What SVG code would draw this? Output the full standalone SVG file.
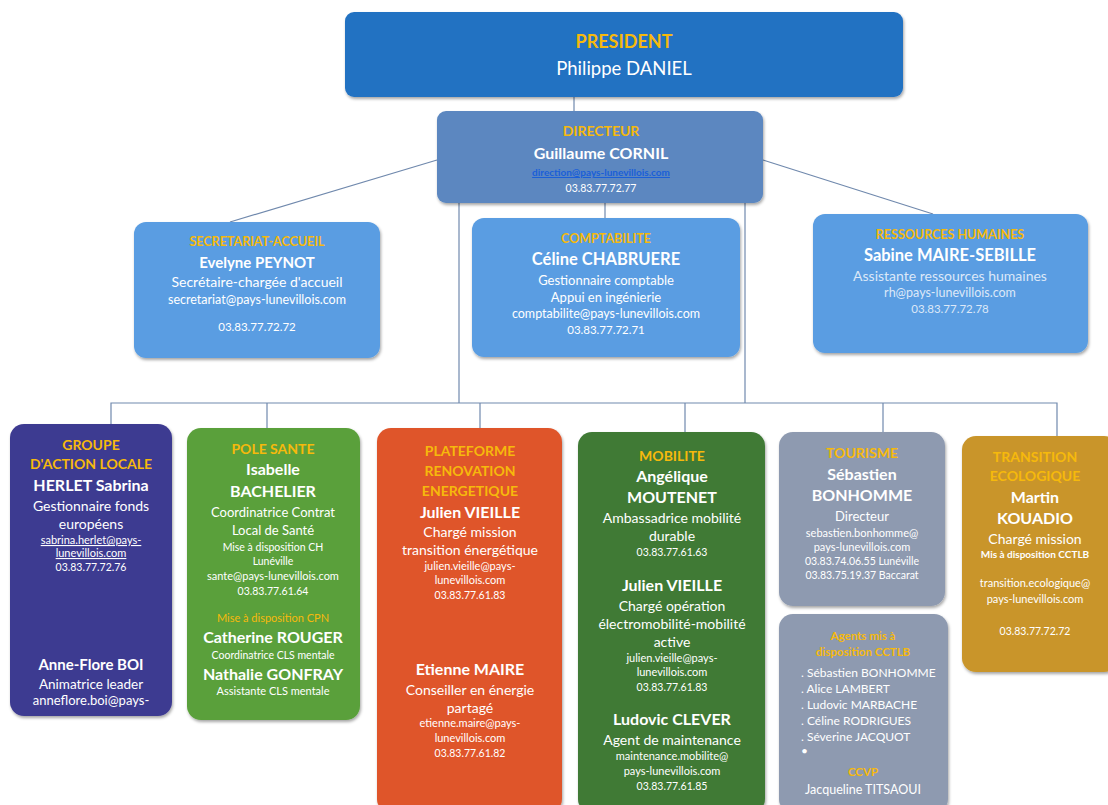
<svg xmlns="http://www.w3.org/2000/svg" width="1108" height="805" viewBox="0 0 1108 805">
<defs>
<filter id="sh" x="-10%" y="-10%" width="120%" height="120%">
<feDropShadow dx="1" dy="2" stdDeviation="1.5" flood-color="#000" flood-opacity="0.35"/>
</filter>
<style>
text{font-family:Lato,"Open Sans","Liberation Sans",sans-serif;text-anchor:middle;fill:#fff}
.box{filter:url(#sh)}
.t{fill:#f6b90c;font-weight:bold;font-size:14px}
.n{font-weight:bold;font-size:16px}
.r{font-size:14px}
.e{font-size:11px}
.p{font-size:10.5px}
.s{font-size:10.5px}
.c{fill:none;stroke:#7089ad;stroke-width:1.2}
.l{font-size:12px;text-anchor:start}
</style>
</defs>
<rect width="1108" height="805" fill="#fff"/>
<g id="connectors">
<line class="c" x1="574" y1="97" x2="574" y2="111"/>
<line class="c" x1="437" y1="160" x2="230" y2="222"/>
<line class="c" x1="763" y1="160" x2="933" y2="214"/>
<line class="c" x1="605" y1="203" x2="605" y2="218"/>
<line class="c" x1="459" y1="203" x2="459" y2="403"/>
<line class="c" x1="745" y1="203" x2="745" y2="403"/>
<polyline class="c" points="111,425 111,403 1057,403 1057,437"/>
<line class="c" x1="267" y1="403" x2="267" y2="428"/>
<line class="c" x1="480" y1="403" x2="480" y2="428"/>
<line class="c" x1="685" y1="403" x2="685" y2="432"/>
<line class="c" x1="883" y1="403" x2="883" y2="432"/>
</g>
<g id="president">
<rect class="box" x="345" y="12" width="558" height="85" rx="9" fill="#2372c2"/>
<text x="624" y="48" class="t" style="font-size:18px">PRESIDENT</text>
<text x="624" y="75" style="font-size:18.5px">Philippe DANIEL</text>
</g>
<g id="directeur">
<rect class="box" x="437" y="111" width="326" height="92" rx="9" fill="#5b87c0"/>
<text x="601" y="136" class="t">DIRECTEUR</text>
<text x="601" y="159" class="n">Guillaume CORNIL</text>
<text x="601" y="176" class="e" style="fill:#1a5fd8;text-decoration:underline;font-weight:bold;font-size:10px">direction@pays-lunevillois.com</text>
<text x="601" y="192" class="p">03.83.77.72.77</text>
</g>
<g id="secretariat">
<rect class="box" x="134" y="222" width="246" height="136" rx="12" fill="#5a9de2"/>
<text x="257" y="246" class="t" style="font-size:12.5px">SECRETARIAT-ACCUEIL</text>
<text x="257" y="268" class="n" style="font-size:15px">Evelyne PEYNOT</text>
<text x="257" y="287" class="r">Secrétaire-chargée d'accueil</text>
<text x="257" y="304" class="e" style="font-size:12.5px">secretariat@pays-lunevillois.com</text>
<text x="257" y="331" class="p" style="font-size:11.5px">03.83.77.72.72</text>
</g>
<g id="comptabilite">
<rect class="box" x="472" y="218" width="268" height="139" rx="12" fill="#5a9de2"/>
<text x="606" y="243" class="t" style="font-size:12.5px">COMPTABILITE</text>
<text x="606" y="265" class="n" style="font-size:16.5px">Céline CHABRUERE</text>
<text x="606" y="285" class="r" style="font-size:13px">Gestionnaire comptable</text>
<text x="606" y="302" class="r" style="font-size:13px">Appui en ingénierie</text>
<text x="606" y="318" class="e" style="font-size:12.5px">comptabilite@pays-lunevillois.com</text>
<text x="606" y="334" class="p" style="font-size:11.5px">03.83.77.72.71</text>
</g>
<g id="rh">
<rect class="box" x="813" y="214" width="275" height="139" rx="12" fill="#5a9de2"/>
<text x="950" y="239" class="t" style="font-size:12.5px">RESSOURCES HUMAINES</text>
<text x="950" y="261" class="n" style="font-size:16.5px">Sabine MAIRE-SEBILLE</text>
<text x="950" y="281" class="r" style="fill:#dce8f8">Assistante ressources humaines</text>
<text x="950" y="297" class="e" style="font-size:12.5px;fill:#dce8f8">rh@pays-lunevillois.com</text>
<text x="950" y="313" class="p" style="font-size:11.5px;fill:#dce8f8">03.83.77.72.78</text>
</g>
<g id="gal">
<rect class="box" x="10" y="424" width="162" height="292" rx="14" fill="#3e3b91"/>
<text x="91" y="450" class="t">GROUPE</text>
<text x="91" y="469" class="t">D'ACTION LOCALE</text>
<text x="91" y="491" class="n">HERLET Sabrina</text>
<text x="91" y="511" class="r">Gestionnaire fonds</text>
<text x="91" y="529" class="r">européens</text>
<text x="91" y="544" class="e" style="text-decoration:underline">sabrina.herlet@pays-</text>
<text x="91" y="557" class="e" style="text-decoration:underline">lunevillois.com</text>
<text x="91" y="571" class="p">03.83.77.72.76</text>
<text x="91" y="670" class="n" style="font-size:15px">Anne-Flore BOI</text>
<text x="91" y="689" class="r" style="font-size:13.5px">Animatrice leader</text>
<text x="91" y="705" class="r" style="font-size:13px">anneflore.boi@pays-</text>
</g>
<g id="pole-sante">
<rect class="box" x="187" y="428" width="173" height="292" rx="14" fill="#5aa03a"/>
<text x="273" y="454" class="t">POLE SANTE</text>
<text x="273" y="475" class="n">Isabelle</text>
<text x="273" y="497" class="n">BACHELIER</text>
<text x="273" y="517" class="r" style="font-size:13px">Coordinatrice Contrat</text>
<text x="273" y="535" class="r" style="font-size:13px">Local de Santé</text>
<text x="273" y="551" class="s">Mise à disposition CH</text>
<text x="273" y="565" class="s">Lunéville</text>
<text x="273" y="580" class="e">sante@pays-lunevillois.com</text>
<text x="273" y="595" class="p">03.83.77.61.64</text>
<text x="273" y="622" class="s" style="fill:#f6b90c;font-size:11px">Mise à disposition CPN</text>
<text x="273" y="643" class="n">Catherine ROUGER</text>
<text x="273" y="659" class="s">Coordinatrice CLS mentale</text>
<text x="273" y="680" class="n">Nathalie GONFRAY</text>
<text x="273" y="695" class="s" style="font-size:11px">Assistante CLS mentale</text>
</g>
<g id="plateforme">
<rect class="box" x="377" y="428" width="185" height="385" rx="14" fill="#df552b"/>
<text x="470" y="456" class="t">PLATEFORME</text>
<text x="470" y="476" class="t">RENOVATION</text>
<text x="470" y="496" class="t">ENERGETIQUE</text>
<text x="470" y="518" class="n">Julien VIEILLE</text>
<text x="470" y="537" class="r">Chargé mission</text>
<text x="470" y="555" class="r">transition énergétique</text>
<text x="470" y="570" class="e">julien.vieille@pays-</text>
<text x="470" y="584" class="e">lunevillois.com</text>
<text x="470" y="599" class="p">03.83.77.61.83</text>
<text x="470" y="675" class="n">Etienne MAIRE</text>
<text x="470" y="695" class="r">Conseiller en énergie</text>
<text x="470" y="713" class="r">partagé</text>
<text x="470" y="727" class="e">etienne.maire@pays-</text>
<text x="470" y="742" class="e">lunevillois.com</text>
<text x="470" y="757" class="p">03.83.77.61.82</text>
</g>
<g id="mobilite">
<rect class="box" x="578" y="432" width="187" height="381" rx="14" fill="#3f7a36"/>
<text x="672" y="461" class="t">MOBILITE</text>
<text x="672" y="482" class="n">Angélique</text>
<text x="672" y="503" class="n">MOUTENET</text>
<text x="672" y="523" class="r">Ambassadrice mobilité</text>
<text x="672" y="541" class="r">durable</text>
<text x="672" y="556" class="p">03.83.77.61.63</text>
<text x="672" y="591" class="n">Julien VIEILLE</text>
<text x="672" y="611" class="r">Chargé opération</text>
<text x="672" y="629" class="r">électromobilité-mobilité</text>
<text x="672" y="647" class="r">active</text>
<text x="672" y="662" class="e">julien.vieille@pays-</text>
<text x="672" y="676" class="e">lunevillois.com</text>
<text x="672" y="691" class="p">03.83.77.61.83</text>
<text x="672" y="725" class="n">Ludovic CLEVER</text>
<text x="672" y="745" class="r">Agent de maintenance</text>
<text x="672" y="760" class="e">maintenance.mobilite@</text>
<text x="672" y="775" class="e">pays-lunevillois.com</text>
<text x="672" y="790" class="p">03.83.77.61.85</text>
</g>
<g id="tourisme">
<rect class="box" x="779" y="432" width="166" height="174" rx="14" fill="#8e9ab0"/>
<text x="862" y="458" class="t">TOURISME</text>
<text x="862" y="480" class="n">Sébastien</text>
<text x="862" y="501" class="n">BONHOMME</text>
<text x="862" y="521" class="r" style="font-size:13px">Directeur</text>
<text x="862" y="537" class="e">sebastien.bonhomme@</text>
<text x="862" y="551" class="e">pays-lunevillois.com</text>
<text x="862" y="565" class="p">03.83.74.06.55 Lunéville</text>
<text x="862" y="579" class="p">03.83.75.19.37 Baccarat</text>
</g>
<g id="agents">
<rect class="box" x="779" y="614" width="169" height="199" rx="14" fill="#8e9ab0"/>
<text x="863" y="640" class="t" style="font-size:11.5px">Agents mis à</text>
<text x="863" y="656" class="t" style="font-size:11.5px">disposition CCTLB</text>
<text x="801" y="677" class="l">. Sébastien BONHOMME</text>
<text x="801" y="693" class="l">. Alice LAMBERT</text>
<text x="801" y="709" class="l">. Ludovic MARBACHE</text>
<text x="801" y="725" class="l">. Céline RODRIGUES</text>
<text x="801" y="741" class="l">. Séverine JACQUOT</text>
<text x="801" y="755" class="l">•</text>
<text x="863" y="776" class="t" style="font-size:11.5px">CCVP</text>
<text x="863" y="794" class="r" style="font-size:12.5px">Jacqueline TITSAOUI</text>
</g>
<g id="transition">
<rect class="box" x="962" y="436" width="156" height="236" rx="14" fill="#c9952a"/>
<text x="1035" y="462" class="t">TRANSITION</text>
<text x="1035" y="481" class="t">ECOLOGIQUE</text>
<text x="1035" y="503" class="n">Martin</text>
<text x="1035" y="524" class="n">KOUADIO</text>
<text x="1035" y="544" class="r">Chargé mission</text>
<text x="1035" y="558" class="s" style="font-weight:bold;font-size:10px">Mis à disposition CCTLB</text>
<text x="1035" y="587" class="e">transition.ecologique@</text>
<text x="1035" y="603" class="e">pays-lunevillois.com</text>
<text x="1035" y="635" class="p">03.83.77.72.72</text>
</g>
</svg>
